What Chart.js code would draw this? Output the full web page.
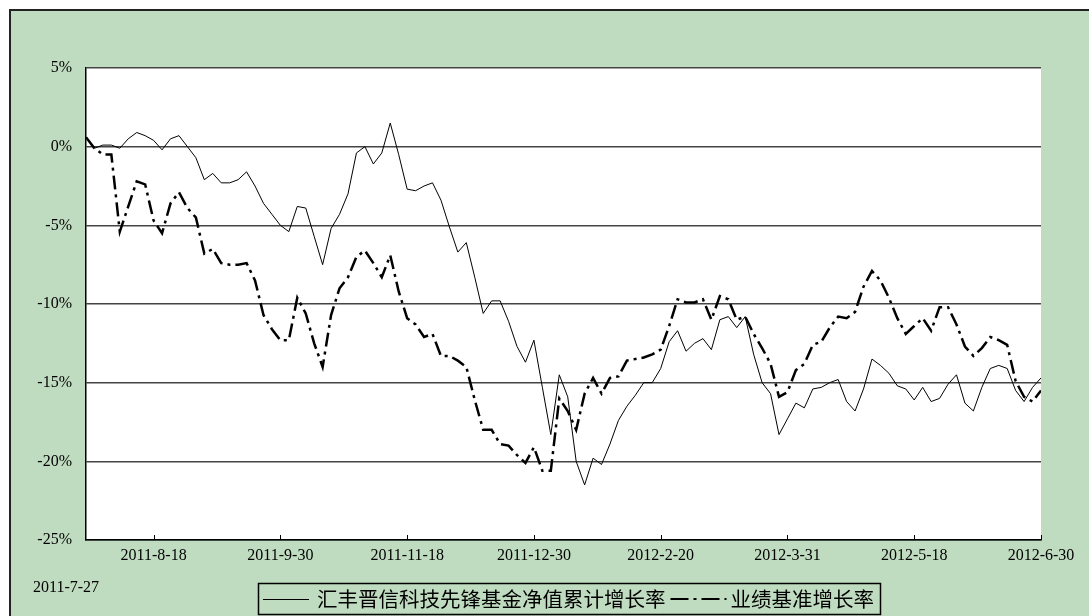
<!DOCTYPE html>
<html>
<head>
<meta charset="utf-8">
<script src="https://cdn.jsdelivr.net/npm/chart.js@4/dist/chart.umd.min.js"></script>
<style>
  html, body { margin: 0; padding: 0; background: #fff; }
  #wrap { width: 1089px; height: 616px; }
</style>
</head>
<body>
<div id="wrap"><canvas id="trendChart" width="1089" height="616"></canvas></div>
<script>
// x position is trading days since 2011-7-27, one reading every 2 days
const dayStep = 2;
const tickDays = [16, 46, 76, 106, 136, 166, 196, 226];
const tickLabels = ['2011-8-18', '2011-9-30', '2011-11-18', '2011-12-30', '2012-2-20', '2012-3-31', '2012-5-18', '2012-6-30'];
const firstDate = '2011-7-27';
const seriesNames = ['汇丰晋信科技先锋基金净值累计增长率', '业绩基准增长率'];

const fund = [
    0.6, -0.1, 0.1, 0.1, -0.1, 0.5, 0.9, 0.7, 0.4, -0.2,
    0.5, 0.7, 0.0, -0.7, -2.1, -1.7, -2.3, -2.3, -2.1, -1.6,
    -2.5, -3.6, -4.3, -5.0, -5.4, -3.8, -3.9, -5.7, -7.5, -5.2,
    -4.3, -3.0, -0.4, 0.0, -1.1, -0.4, 1.5, -0.5, -2.7, -2.8,
    -2.5, -2.3, -3.4, -5.1, -6.7, -6.1, -8.3, -10.6, -9.8, -9.8,
    -11.1, -12.7, -13.7, -12.3, -15.3, -18.3, -14.5, -15.9, -20.0, -21.5,
    -19.8, -20.2, -18.9, -17.4, -16.5, -15.8, -15.0, -15.0, -14.1, -12.4,
    -11.7, -13.0, -12.5, -12.2, -12.9, -11.0, -10.8, -11.5, -10.8, -13.2,
    -15.0, -15.7, -18.3, -17.3, -16.3, -16.6, -15.4, -15.3, -15.0, -14.8,
    -16.2, -16.8, -15.4, -13.5, -13.9, -14.4, -15.2, -15.4, -16.1, -15.3,
    -16.2, -16.0, -15.1, -14.5, -16.3, -16.8, -15.3, -14.1, -13.9, -14.1,
    -15.5, -16.2, -15.3, -14.7
];
const bench = [
    0.6, -0.1, -0.5, -0.5, -5.4, -3.8, -2.2, -2.4, -4.7, -5.5,
    -3.6, -2.9, -3.9, -4.5, -6.8, -6.5, -7.4, -7.5, -7.5, -7.4,
    -8.5, -10.7, -11.6, -12.3, -12.3, -9.6, -10.6, -12.5, -14.0, -10.7,
    -9.0, -8.3, -7.0, -6.6, -7.4, -8.3, -6.9, -9.2, -10.9, -11.3,
    -12.1, -11.9, -13.3, -13.3, -13.6, -14.0, -16.1, -18.0, -18.0, -18.9,
    -19.0, -19.6, -20.1, -19.1, -20.6, -20.6, -16.0, -16.8, -18.0, -15.7,
    -14.7, -15.7, -14.7, -14.6, -13.6, -13.5, -13.4, -13.2, -12.9, -11.4,
    -9.7, -9.9, -9.9, -9.7, -11.0, -9.5, -9.7, -11.0, -10.8, -11.9,
    -12.8, -13.8, -15.9, -15.6, -14.2, -13.8, -12.6, -12.4, -11.5, -10.8,
    -10.9, -10.5, -8.9, -7.9, -8.5, -9.6, -10.9, -11.9, -11.4, -10.9,
    -11.7, -10.2, -10.2, -11.3, -12.7, -13.3, -12.8, -12.1, -12.3, -12.6,
    -14.9, -15.9, -16.2, -15.5
];

const toPoints = arr => arr.map((v, i) => ({ x: i * dayStep, y: v }));

const labelFont = { family: '"Liberation Serif", serif', size: 16 };
const benchDash = [14, 5, 3, 5];

const frame = {
    id: 'frame',
    beforeDraw(chart) {
        const { ctx, chartArea: a, width, height } = chart;
        ctx.save();
        ctx.fillStyle = '#ffffff';
        ctx.fillRect(0, 0, width, height);
        ctx.fillStyle = '#c0dcc0';
        ctx.fillRect(10, 10, width, height);
        ctx.strokeStyle = '#222';
        ctx.lineWidth = 2;
        ctx.beginPath();
        ctx.moveTo(10, height);
        ctx.lineTo(10, 10);
        ctx.lineTo(width, 10);
        ctx.stroke();
        ctx.fillStyle = '#ffffff';
        ctx.fillRect(a.left, a.top, a.right - a.left, a.bottom - a.top);
        ctx.restore();
    },
    afterDraw(chart) {
        const { ctx, chartArea: a } = chart;
        const xs = chart.scales.x;
        ctx.save();
        // small inside tick marks on the date axis
        ctx.strokeStyle = '#000';
        ctx.lineWidth = 1;
        tickDays.forEach(d => {
            const px = Math.round(xs.getPixelForValue(d)) + 0.5;
            ctx.beginPath();
            ctx.moveTo(px, a.bottom);
            ctx.lineTo(px, a.bottom - 5);
            ctx.stroke();
        });
        // first date sits on a second row
        ctx.fillStyle = '#000';
        ctx.font = '16px "Liberation Serif", serif';
        ctx.textAlign = 'center';
        ctx.textBaseline = 'middle';
        ctx.fillText(firstDate, xs.getPixelForValue(0) - 20, 588);

        // legend
        const ly = 599;
        ctx.fillStyle = '#c0dcc0';
        ctx.fillRect(258, 583, 622, 31);
        ctx.strokeStyle = '#000';
        ctx.lineWidth = 1.5;
        ctx.strokeRect(258.5, 583.5, 622, 31);
        ctx.lineWidth = 1;
        ctx.beginPath();
        ctx.moveTo(263, ly + 0.5);
        ctx.lineTo(309, ly + 0.5);
        ctx.stroke();
        ctx.font = '20.5px "Noto Sans CJK SC", sans-serif';
        ctx.textAlign = 'left';
        ctx.fillStyle = '#000';
        ctx.fillText(seriesNames[0], 317, ly);
        const x2 = 317 + ctx.measureText(seriesNames[0]).width + 5;
        ctx.lineWidth = 2;
        ctx.setLineDash([18, 5, 3, 5]);
        ctx.beginPath();
        ctx.moveTo(x2, ly);
        ctx.lineTo(x2 + 56, ly);
        ctx.stroke();
        ctx.setLineDash([]);
        ctx.fillText(seriesNames[1], x2 + 60, ly);
        ctx.restore();
    }
};

const ctx = document.getElementById('trendChart').getContext('2d');
new Chart(ctx, {
    type: 'line',
    data: {
        datasets: [
            {
                label: seriesNames[0],
                data: toPoints(fund),
                borderColor: '#000',
                borderWidth: 1,
                pointRadius: 0,
                tension: 0
            },
            {
                label: seriesNames[1],
                data: toPoints(bench),
                borderColor: '#000',
                borderWidth: 2.5,
                borderDash: benchDash,
                pointRadius: 0,
                tension: 0
            }
        ]
    },
    options: {
        responsive: false,
        animation: false,
        layout: { padding: { left: 0, top: 68, right: 48, bottom: 0 } },
        plugins: {
            legend: { display: false },
            tooltip: { enabled: false }
        },
        scales: {
            x: {
                type: 'linear',
                min: 0,
                max: 226,
                afterBuildTicks: scale => { scale.ticks = tickDays.map(v => ({ value: v })); },
                afterFit: scale => { scale.height = 76; },
                grid: { drawOnChartArea: false, drawTicks: false },
                border: { display: true, color: '#000', width: 1.5 },
                ticks: {
                    autoSkip: false,
                    maxRotation: 0,
                    padding: 0,
                    color: '#000',
                    font: { ...labelFont, lineHeight: 2 },
                    callback: v => tickLabels[tickDays.indexOf(v)] || ''
                }
            },
            y: {
                min: -25,
                max: 5,
                afterFit: scale => { scale.width = 86; },
                grid: { color: '#444', lineWidth: 1.5, drawTicks: false },
                border: { display: true, color: '#000', width: 1.5 },
                ticks: {
                    stepSize: 5,
                    padding: 14,
                    color: '#000',
                    font: labelFont,
                    callback: v => v + '%'
                }
            }
        }
    },
    plugins: [frame]
});
</script>
</body>
</html>
